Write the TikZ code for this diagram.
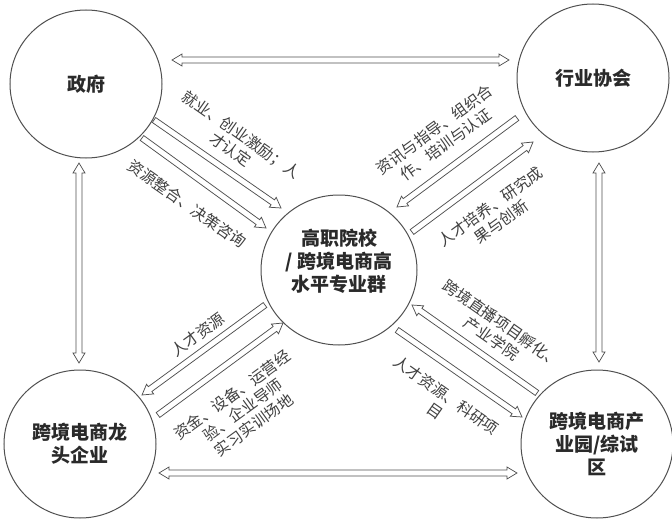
\documentclass[tikz,border=0pt]{standalone}
\usepackage{fontspec}
\setmainfont{Noto Sans CJK SC}
\usetikzlibrary{calc,shapes.geometric}
\definecolor{ln}{HTML}{505050}
\definecolor{tx}{HTML}{404040}
\definecolor{bt}{HTML}{2A2A2A}
% hollow block arrow from #1 to #2 (head at #2)
\newcommand\ArrOne[2]{%
  \coordinate (#1-B) at ($(#2)!10pt!(#1)$);
  \draw[arr] ($(#1)!3pt!90:(#2)$) -- ($(#1-B)!3pt!90:(#2)$) -- ($(#1-B)!6pt!90:(#2)$)
    -- (#2) -- ($(#1-B)!6pt!-90:(#2)$) -- ($(#1-B)!3pt!-90:(#2)$)
    -- ($(#1)!3pt!-90:(#2)$) -- cycle;}
% hollow block arrow with heads at both ends
\newcommand\ArrTwo[2]{%
  \coordinate (#1-A) at ($(#1)!10pt!(#2)$);
  \coordinate (#1-B) at ($(#2)!10pt!(#1)$);
  \draw[arr] (#1) -- ($(#1-A)!6pt!90:(#2)$) -- ($(#1-A)!3pt!90:(#2)$)
    -- ($(#1-B)!3pt!90:(#2)$) -- ($(#1-B)!6pt!90:(#2)$)
    -- (#2) -- ($(#1-B)!6pt!-90:(#2)$) -- ($(#1-B)!3pt!-90:(#2)$)
    -- ($(#1-A)!3pt!-90:(#2)$) -- ($(#1-A)!6pt!-90:(#2)$) -- cycle;}
\begin{document}
\begin{tikzpicture}[x=1pt,y=-1pt,
  ent/.style={ellipse, draw=ln, line width=1pt, inner sep=0pt, align=center, text=bt,
    font=\fontsize{19}{23}\selectfont\bfseries},
  enttext/.style={inner sep=0pt, align=center, text=bt, font=\fontsize{19}{23}\selectfont\bfseries},
  arr/.style={draw=ln, line width=0.75pt, fill=white, line join=miter},
  lab/.style={inner sep=0pt, align=center, text=tx, font=\fontsize{15.5}{18.5}\selectfont}]
\useasboundingbox[fill=white] (0,0) rectangle (672,519);

% entities
\node[ent, minimum width=152pt, minimum height=148pt] (gov) at (86,84) {政府};
\node[ent, minimum width=152pt, minimum height=148pt] (ind) at (593,78) {行业协会};
\node[ent, minimum width=156pt, minimum height=150pt] (hv) at (339,270) {};
\node[enttext] (hvt) at (339,261) {高职院校\\/ 跨境电商高\\水平专业群};
\node[ent, minimum width=152pt, minimum height=148pt] (ent) at (80,444) {跨境电商龙\\头企业};
\node[ent, minimum width=152pt, minimum height=148pt] (park) at (597,444) {跨境电商产\\业园/综试\\区};

% connector end points
\coordinate (t1) at (172,60);  \coordinate (t2) at (509,60);
\coordinate (b1) at (159,473); \coordinate (b2) at (517,473);
\coordinate (v1) at (79,163);  \coordinate (v2) at (79,363);
\coordinate (w1) at (599,163); \coordinate (w2) at (599,362);
\coordinate (g1s) at (154,120); \coordinate (g1e) at (281,208);
\coordinate (g2s) at (142,138); \coordinate (g2e) at (266,228);
\coordinate (i1s) at (517,118); \coordinate (i1e) at (397,207);
\coordinate (i2s) at (412,232); \coordinate (i2e) at (533,142);
\coordinate (e1s) at (265,305); \coordinate (e1e) at (142,395);
\coordinate (e2s) at (158,415); \coordinate (e2e) at (283,323);
\coordinate (p1s) at (537,393); \coordinate (p1e) at (412,305);
\coordinate (p2s) at (397,330); \coordinate (p2e) at (522,417);

% connectors
\ArrTwo{t1}{t2}
\ArrTwo{b1}{b2}
\ArrTwo{v1}{v2}
\ArrTwo{w1}{w2}
\ArrOne{g1s}{g1e}
\ArrOne{g2s}{g2e}
\ArrOne{i1s}{i1e}
\ArrOne{i2s}{i2e}
\ArrOne{e1s}{e1e}
\ArrOne{e2s}{e2e}
\ArrOne{p1s}{p1e}
\ArrOne{p2s}{p2e}

% labels
\node[lab, rotate=-35] (l1) at (236,142) {就业、创业激励；人\\才认定};
\node[lab, rotate=-35] (l2) at (187,204) {资源整合、决策咨询};
\node[lab, rotate=36] (l3) at (440,137) {资讯与指导、组织合\\作、培训与认证};
\node[lab, rotate=36] (l4) at (496,214) {人才培养、研究成\\果与创新};
\node[lab, rotate=36] (l5) at (198,335) {人才资源};
\node[lab, rotate=36] (l6) at (243,410) {资金、设备、运营经\\验、企业导师\\实习实训场地};
\node[lab, rotate=-35] (l7) at (497,331) {跨境直播项目孵化、\\产业学院};
\node[lab, rotate=-35] (l8) at (441,403) {人才资源、科研项\\目};
\end{tikzpicture}
\end{document}
